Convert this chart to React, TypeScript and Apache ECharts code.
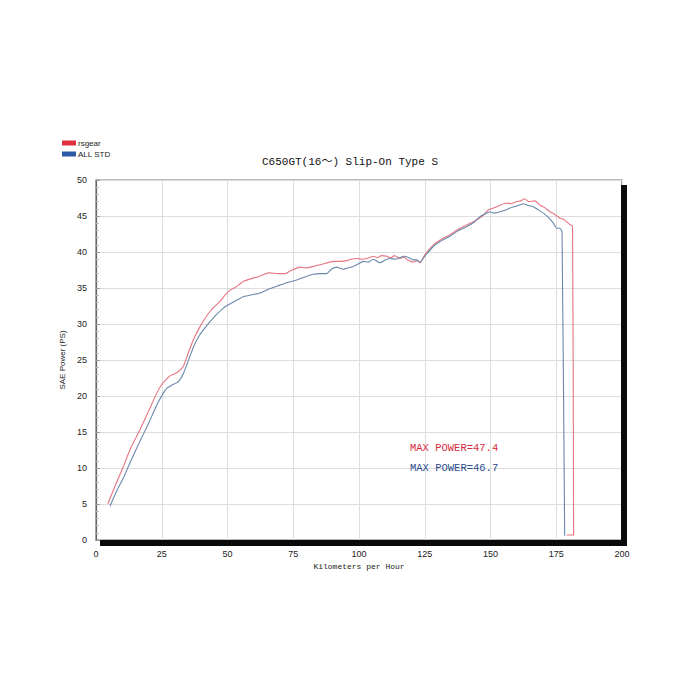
import React, { useEffect, useRef } from "react";
import * as echarts from "echarts";

const TITLE = "C650GT(16〜) Slip-On Type S";
const SERIES_NAMES = ["rsgear", "ALL STD"];
const X_NAME = "Kilometers per Hour";
const Y_NAME = "SAE Power (PS)";
const MAX_LABELS = ["MAX POWER=47.4", "MAX POWER=46.7"];

const redSpeed = [4.5, 7, 10.4, 13, 16.7, 20, 23.1, 25, 27, 28.1, 30, 31.3, 33.2, 35.7, 37.5, 39.5, 41.5, 43.3, 45, 47.1, 49, 51, 53, 56, 59, 62, 64, 66, 69, 72, 74, 77.6, 80, 82.6, 86, 90.2, 93, 95.3, 97, 99.1, 101, 103, 105.5, 107, 108.5, 110.6, 112, 113.5, 115.6, 117, 118.5, 120.7, 121.9, 123.2, 125, 128.3, 131, 134.6, 137.5, 140.9, 144, 147.3, 149, 151.1, 153, 156.1, 158, 160, 161.5, 163.1, 164.5, 166.9, 168.8, 170.5, 172.6, 174.5, 176.4, 178, 180.2, 181.2, 181.6, 179];
const redPower = [5.0, 7.3, 10.2, 12.6, 15.3, 17.9, 20.4, 21.6, 22.4, 22.8, 23.1, 23.4, 24.1, 26.6, 28.2, 29.6, 30.8, 31.7, 32.4, 33.1, 34.0, 34.7, 35.1, 35.9, 36.3, 36.6, 36.9, 37.1, 37.0, 37.0, 37.4, 37.9, 37.8, 38.0, 38.3, 38.7, 38.7, 38.8, 39.0, 39.1, 39.0, 39.1, 39.4, 39.2, 39.5, 39.4, 39.2, 39.5, 39.1, 39.3, 38.9, 38.6, 38.8, 38.5, 39.6, 41.0, 41.7, 42.4, 43.1, 43.75, 44.3, 45.1, 45.8, 46.1, 46.4, 46.8, 46.7, 47.0, 47.1, 47.4, 47.0, 47.1, 46.5, 46.2, 45.6, 45.2, 44.7, 44.5, 43.8, 43.6, 0.7, 0.7];

const blueSpeed = [5.3, 8, 10.4, 13, 16.7, 20, 23.1, 25.6, 27, 28.8, 31.3, 33.2, 35.7, 37.5, 39.5, 41.5, 43.3, 45, 48.4, 50, 53.5, 56, 58.5, 62.4, 66, 70, 73, 76.3, 80, 82.6, 85, 87.7, 89.5, 91.5, 94, 96, 97.8, 99.5, 101.6, 103.5, 105.5, 108, 110, 111.9, 114, 117, 119, 120.7, 121.9, 123.2, 125, 128.3, 131, 134.6, 137.5, 140.9, 144, 146, 148, 149.8, 151.5, 153.6, 155.5, 157.4, 160, 162.5, 164, 166.3, 168, 170.1, 172, 173.9, 175.2, 176.4, 177.2, 178.2];
const bluePower = [4.7, 6.9, 8.6, 10.8, 13.7, 16.2, 18.75, 20.4, 21.1, 21.5, 22.0, 23.1, 25.5, 27.2, 28.5, 29.5, 30.3, 31.0, 32.2, 32.6, 33.3, 33.8, 34.0, 34.3, 34.9, 35.4, 35.8, 36.1, 36.6, 36.9, 37.0, 37.0, 37.6, 37.9, 37.6, 37.8, 38.0, 38.3, 38.7, 38.6, 39.0, 38.5, 38.9, 39.1, 39.0, 39.4, 39.2, 38.9, 38.9, 38.6, 39.4, 40.8, 41.5, 42.2, 42.9, 43.5, 44.2, 44.9, 45.3, 45.6, 45.4, 45.6, 45.8, 46.1, 46.4, 46.7, 46.5, 46.3, 45.9, 45.4, 44.8, 44.0, 43.3, 43.3, 42.8, 0.6];

const zip = (xs: number[], ys: number[]) => xs.map((x, i) => [x, ys[i]]);

const NARROW = "'Liberation Sans Narrow', 'Liberation Sans', Arial, sans-serif";
const MONO = "'Liberation Mono', 'DejaVu Sans Mono', 'Noto Sans CJK JP', monospace";

export default function App() {
  const ref = useRef<HTMLDivElement>(null);
  useEffect(() => {
    if (!ref.current) return;
    const chart = echarts.init(ref.current, null, { renderer: "svg" });
    chart.setOption({
      animation: false,
      backgroundColor: "#ffffff",
      title: {
        text: TITLE,
        left: "center",
        top: 151,
        textStyle: { fontFamily: MONO, fontSize: 11, fontWeight: "normal", color: "#111" },
      },
      legend: {
        orient: "vertical",
        left: 57,
        top: 134,
        icon: "rect",
        itemWidth: 14,
        itemHeight: 5,
        itemGap: 3,
        textStyle: { fontFamily: "'Liberation Sans', Arial, sans-serif", fontSize: 8, color: "#222", padding: [0, 0, 0, -3] },
        data: SERIES_NAMES,
      },
      grid: {
        left: 96,
        right: 78,
        top: 180,
        bottom: 160,
        show: true,
        borderColor: "#777777",
        borderWidth: 1.2,
        backgroundColor: "#ffffff",
      },
      xAxis: {
        type: "value",
        min: 0,
        max: 200,
        interval: 25,
        name: X_NAME,
        nameLocation: "middle",
        nameGap: 21,
        nameTextStyle: { fontFamily: MONO, fontSize: 8, color: "#222" },
        axisLine: { show: true, lineStyle: { color: "#666" } },
        axisTick: { show: false },
        minorTick: { show: true, splitNumber: 5, length: 3, lineStyle: { color: "#bbb" } },
        axisLabel: { fontFamily: NARROW, fontSize: 9, color: "#222", margin: 9 },
        splitLine: { show: true, lineStyle: { color: "#dedede", width: 1 } },
      },
      yAxis: {
        type: "value",
        min: 0,
        max: 50,
        interval: 5,
        name: Y_NAME,
        nameLocation: "middle",
        nameGap: 25,
        nameTextStyle: { fontFamily: NARROW, fontSize: 8, color: "#222" },
        axisLine: { show: true, lineStyle: { color: "#666", width: 1.2 } },
        axisTick: { show: true, inside: true, length: 4, lineStyle: { color: "#999" } },
        minorTick: { show: true, splitNumber: 5, length: 3, lineStyle: { color: "#bbb" } },
        axisLabel: { fontFamily: NARROW, fontSize: 9, color: "#222", margin: 9 },
        splitLine: { show: true, lineStyle: { color: "#dedede", width: 1 } },
      },
      series: [
        {
          name: SERIES_NAMES[0],
          type: "line",
          data: zip(redSpeed, redPower),
          showSymbol: false,
          symbol: "none",
          smooth: 0.15,
          itemStyle: { color: "#e0303e" },
          lineStyle: { color: "#e57580", width: 1.1 },
          z: 3,
        },
        {
          name: SERIES_NAMES[1],
          type: "line",
          data: zip(blueSpeed, bluePower),
          showSymbol: false,
          symbol: "none",
          smooth: 0.15,
          itemStyle: { color: "#2d5aa6" },
          lineStyle: { color: "#6a88ac", width: 1.1 },
          z: 4,
        },
      ],
      graphic: [
        { type: "rect", z: 100, shape: { x: 621, y: 185, width: 6, height: 361 }, style: { fill: "#0a0a0a" } },
        { type: "rect", z: 100, shape: { x: 100, y: 540, width: 527, height: 6 }, style: { fill: "#0a0a0a" } },
        {
          type: "text",
          z: 100,
          x: 410,
          y: 443,
          style: { text: MAX_LABELS[0], fill: "#d82a3c", font: `10.5px ${MONO}` },
        },
        {
          type: "text",
          z: 100,
          x: 410,
          y: 463,
          style: { text: MAX_LABELS[1], fill: "#2b4c8c", font: `10.5px ${MONO}` },
        },
      ],
    });
    return () => chart.dispose();
  }, []);
  return <div ref={ref} style={{ width: 700, height: 700, position: "absolute", left: 0, top: 0 }} />;
}
